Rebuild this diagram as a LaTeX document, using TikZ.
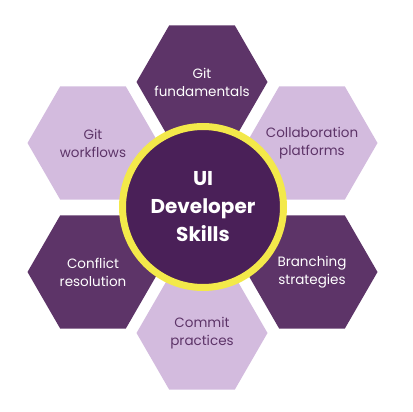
\documentclass[tikz,border=0pt]{standalone}
\usepackage{fontspec}
\setmainfont{Poppins}
\usepackage{tikz}
\usetikzlibrary{shapes.geometric}

\definecolor{hexdark}{RGB}{93,52,104}
\definecolor{hexlight}{RGB}{211,187,222}
\definecolor{hubfill}{RGB}{74,32,88}
\definecolor{hubring}{RGB}{243,233,74}

\begin{document}
\begin{tikzpicture}[x=1pt, y=-1pt,
    hexa/.style={regular polygon, regular polygon sides=6, minimum size=131pt, inner sep=0pt},
    darkhex/.style={hexa, fill=hexdark},
    lighthex/.style={hexa, fill=hexlight},
    hexlabel/.style={align=center, inner sep=0pt, font=\fontsize{13.5}{18}\selectfont},
    hub/.style={circle, fill=hubfill, draw=hubring, line width=7pt, minimum size=161pt,
      inner sep=0pt, align=center, text=white, font=\bfseries\fontsize{20}{28}\selectfont}]
      \useasboundingbox (0, 0) rectangle (412, 412);

      % Skill hexagons
      \node[darkhex] (fundamentals) at (202, 82) {};
      \node[lighthex] (collab) at (312, 143) {};
      \node[darkhex] (branching) at (312, 272) {};
      \node[lighthex] (commit) at (202, 333) {};
      \node[darkhex] (conflict) at (93, 272) {};
      \node[lighthex] (workflows) at (93, 143) {};

      % Hexagon texts
      \node[hexlabel, text=white] (fundamentalstext) at (fundamentals) {Git\\fundamentals};
      \node[hexlabel, text=hexdark] (collabtext) at (collab) {Collaboration\\platforms};
      \node[hexlabel, text=white] (branchingtext) at (branching) {Branching\\strategies};
      \node[hexlabel, text=hexdark] (committext) at (commit) {Commit\\practices};
      \node[hexlabel, text=white] (conflicttext) at (conflict) {Conflict\\resolution};
      \node[hexlabel, text=hexdark] (workflowstext) at (workflows) {Git\\workflows};

      % Centre
      \node[hub] (skills) at (203, 207) {UI\\Developer\\Skills};
    \end{tikzpicture}
\end{document}
